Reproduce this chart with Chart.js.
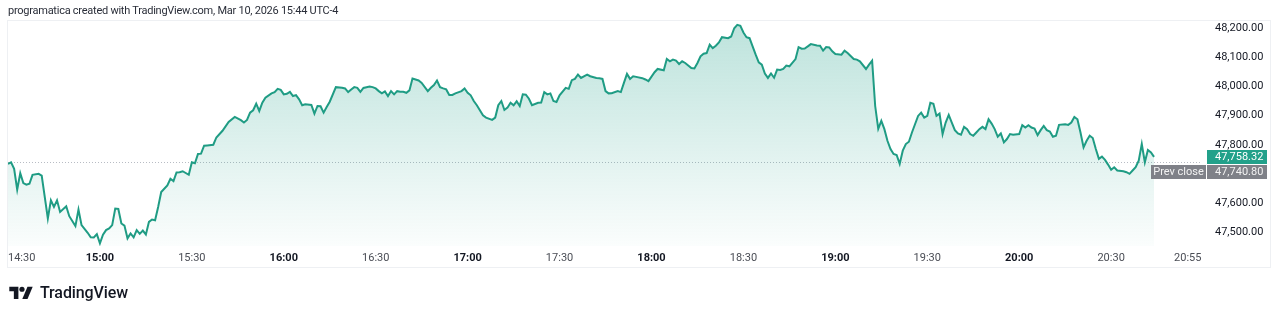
<!DOCTYPE html>
<html>
<head>
<meta charset="utf-8">
<script src="https://cdn.jsdelivr.net/npm/chart.js@4"></script>
<style>
  html, body { margin: 0; padding: 0; background: #fff; }
  #wrap { position: relative; width: 1280px; height: 315px; overflow: hidden; font-family: Roboto, "Noto Sans", sans-serif; }
  #chart { position: absolute; left: 0; top: 0; }
  #header { position: absolute; left: 8px; top: 4px; font-size: 11px; color: #2a2e39; white-space: nowrap; letter-spacing: -0.25px; }
  #pane { position: absolute; left: 7px; top: 20px; width: 1264px; height: 248px; border: 1px solid #eef0f3; box-sizing: border-box; }
  #logo { position: absolute; left: 9px; top: 283px; display: flex; align-items: center; gap: 7px; color: #131722; font-size: 16px; font-weight: 500; letter-spacing: -0.1px; }
</style>
</head>
<body>
<div id="wrap">
  <div id="pane"></div>
  <canvas id="chart" width="1280" height="315"></canvas>
  <div id="header">programatica created with TradingView.com, Mar 10, 2026 15:44 UTC-4</div>
  <div id="logo">
    <svg width="24" height="13" viewBox="0 0 36 20"><path d="M14 20H7V8H0V1h14z" fill="#131722"/><circle cx="19.5" cy="5" r="4" fill="#131722"/><path d="M28 20h-8L28 1h8z" fill="#131722"/></svg>
    <span>TradingView</span>
  </div>
</div>
<script>
// minutes after 14:30 and the index level at that minute
const minutes = [0, 1, 2, 3, 4, 5, 6, 7, 8, 10, 11, 13, 14, 15, 16, 17, 19, 20, 22, 23, 24, 26, 27, 28, 29, 30, 31, 32, 33, 34, 35, 36, 37, 38, 39, 40, 41, 42, 43, 44, 45, 46, 47, 48, 49, 50, 52, 53, 54, 55, 56, 57, 59, 60, 61, 62, 63, 64, 65, 67, 68, 70, 72, 74, 76, 77, 78, 79, 80, 81, 82, 83, 84, 86, 87, 88, 89, 90, 91, 92, 93, 94, 95, 96, 97, 99, 100, 101, 102, 103, 104, 105, 107, 109, 110, 111, 112, 113, 114, 115, 116, 118, 119, 120, 121, 122, 123, 124, 125, 126, 127, 128, 129, 130, 131, 132, 133, 134, 135, 137, 138, 139, 140, 141, 142, 143, 144, 145, 146, 148, 149, 150, 151, 152, 153, 155, 156, 158, 159, 160, 161, 162, 163, 164, 165, 166, 167, 168, 169, 170, 171, 173, 174, 175, 176, 177, 178, 179, 180, 182, 183, 184, 185, 186, 187, 189, 190, 192, 193, 194, 195, 196, 197, 199, 200, 201, 202, 203, 204, 205, 207, 208, 209, 211, 212, 214, 215, 216, 217, 218, 219, 220, 221, 223, 224, 225, 226, 227, 228, 229, 230, 231, 232, 233, 235, 236, 237, 238, 239, 240, 241, 242, 243, 244, 245, 246, 247, 248, 249, 250, 251, 252, 253, 254, 255, 257, 258, 259, 260, 261, 262, 264, 265, 266, 267, 268, 269, 270, 272, 273, 274, 276, 277, 278, 280, 281, 282, 283, 284, 285, 286, 287, 288, 289, 290, 291, 292, 293, 294, 295, 297, 298, 299, 300, 301, 302, 303, 304, 305, 306, 307, 308, 309, 310, 311, 312, 313, 314, 315, 316, 317, 318, 319, 320, 321, 322, 323, 324, 325, 326, 327, 328, 330, 331, 332, 333, 334, 335, 336, 337, 338, 339, 340, 341, 342, 343, 345, 346, 347, 348, 349, 350, 351, 352, 353, 354, 355, 356, 357, 358, 359, 360, 361, 362, 364, 365, 366, 367, 368, 369, 370, 371, 372, 373, 374];
const prices = [47734.3, 47739.8, 47717.3, 47645.7, 47702.3, 47668.2, 47662.7, 47666.2, 47696.8, 47700.2, 47694.4, 47546.8, 47609.2, 47586.4, 47609.2, 47569.3, 47588.8, 47554.7, 47520.6, 47577.5, 47524.0, 47497.7, 47482.1, 47481.5, 47493.3, 47461.6, 47491.0, 47507.0, 47512.7, 47524.0, 47580.9, 47579.6, 47529.8, 47522.5, 47478.7, 47495.7, 47482.1, 47507.0, 47494.2, 47505.5, 47492.0, 47535.2, 47543.4, 47541.0, 47586.4, 47637.5, 47660.4, 47683.2, 47675.0, 47704.7, 47705.7, 47709.1, 47696.8, 47739.8, 47736.4, 47768.4, 47769.5, 47796.7, 47797.8, 47800.1, 47825.0, 47847.9, 47878.5, 47895.6, 47884.3, 47876.1, 47885.0, 47910.2, 47918.4, 47940.9, 47916.0, 47944.3, 47961.4, 47976.4, 47980.8, 47992.0, 47988.6, 47973.0, 47975.0, 47981.8, 47967.2, 47970.6, 47955.9, 47935.5, 47938.9, 47936.5, 47906.8, 47933.1, 47932.0, 47910.2, 47929.7, 47947.7, 47997.8, 47996.0, 47993.4, 47980.8, 47990.0, 47997.8, 47995.5, 47981.8, 47995.0, 48000.2, 47997.8, 47993.4, 47984.2, 47976.4, 47983.0, 47967.2, 47984.2, 47973.0, 47984.0, 47981.8, 47982.0, 47978.4, 47986.6, 48027.5, 48024.1, 48020.7, 48012.5, 47984.2, 47995.5, 48004.7, 48020.7, 47997.8, 47993.4, 47990.0, 47970.6, 47971.0, 47976.4, 47984.2, 47993.4, 47978.4, 47969.6, 47950.1, 47935.5, 47901.4, 47893.2, 47885.4, 47893.2, 47935.5, 47950.1, 47919.4, 47927.3, 47944.3, 47935.5, 47949.1, 47933.1, 47973.0, 47972.0, 47958.0, 47935.5, 47944.3, 47945.0, 47980.8, 47973.0, 47976.4, 47950.1, 47946.7, 47969.6, 47995.5, 47992.0, 48021.7, 48026.1, 48041.1, 48029.5, 48041.1, 48035.3, 48029.5, 48028.0, 48026.1, 47984.2, 47976.4, 47977.0, 47984.2, 47980.8, 48012.5, 48043.2, 48026.1, 48035.3, 48033.0, 48028.5, 48024.1, 48018.3, 48049.0, 48060.2, 48055.8, 48094.3, 48086.5, 48092.3, 48088.9, 48077.3, 48086.5, 48080.7, 48063.6, 48062.0, 48080.7, 48103.5, 48112.7, 48114.8, 48143.4, 48131.8, 48140.0, 48151.3, 48169.3, 48165.9, 48171.7, 48200.0, 48211.6, 48208.2, 48185.3, 48169.3, 48165.9, 48137.6, 48109.3, 48083.1, 48075.2, 48044.5, 48029.5, 48044.5, 48030.0, 48058.2, 48057.0, 48060.2, 48071.8, 48069.4, 48094.3, 48135.2, 48129.8, 48130.5, 48137.6, 48145.5, 48141.0, 48140.0, 48123.0, 48135.2, 48134.2, 48120.6, 48111.4, 48109.3, 48123.0, 48114.8, 48094.3, 48092.3, 48086.5, 48060.2, 48075.2, 48088.9, 47933.0, 47854.7, 47882.0, 47853.6, 47813.8, 47785.5, 47768.4, 47765.0, 47734.3, 47779.7, 47802.5, 47810.4, 47842.1, 47899.0, 47910.2, 47893.2, 47899.0, 47944.3, 47940.9, 47899.0, 47906.8, 47836.6, 47876.1, 47902.4, 47876.1, 47850.2, 47838.6, 47834.2, 47861.5, 47853.6, 47836.6, 47830.8, 47842.1, 47853.6, 47861.5, 47853.6, 47887.7, 47872.7, 47853.6, 47827.4, 47838.6, 47808.0, 47819.6, 47836.6, 47834.2, 47836.6, 47867.3, 47859.1, 47867.3, 47859.1, 47855.7, 47833.2, 47850.2, 47864.9, 47850.2, 47845.5, 47827.4, 47830.8, 47868.3, 47870.7, 47868.3, 47876.1, 47895.6, 47887.7, 47842.1, 47790.9, 47813.8, 47830.8, 47823.0, 47785.5, 47751.4, 47759.2, 47748.0, 47731.9, 47713.9, 47722.7, 47711.5, 47709.1, 47705.7, 47700.2, 47711.5, 47722.7, 47745.6, 47802.5, 47739.8, 47782.1, 47773.9, 47758.32];

const xTickMinutes = [0, 30, 60, 90, 120, 150, 180, 210, 240, 270, 300, 330, 360, 385];
const xTickLabels = ['14:30', '15:00', '15:30', '16:00', '16:30', '17:00', '17:30', '18:00', '18:30', '19:00', '19:30', '20:00', '20:30', '20:55'];
const yTicks = [47500, 47600, 47800, 47900, 48000, 48100, 48200];

const lastPrice = 47758.32;
const prevClose = 47740.80;

const xMax = 389;
const yMin = 47452.4;
const yMax = 48222.8;

const lineColor = '#1f9c84';
const fontFamily = 'Roboto, "Noto Sans", sans-serif';
const fmt = v => v.toLocaleString('en-US', { minimumFractionDigits: 2, maximumFractionDigits: 2 });

Chart.defaults.font.family = fontFamily;

const priceLabels = {
    id: 'priceLabels',
    beforeDatasetsDraw(chart) {
        const c = chart.ctx;
        const area = chart.chartArea;
        const y = Math.round(chart.scales.y.getPixelForValue(prevClose)) + 0.5;
        c.save();
        c.strokeStyle = '#b8bcc4';
        c.lineWidth = 1;
        c.setLineDash([1, 2]);
        c.beginPath();
        c.moveTo(area.left, y);
        c.lineTo(area.right, y);
        c.stroke();
        c.restore();
    },
    afterDraw(chart) {
        const c = chart.ctx;
        const area = chart.chartArea;
        const yLast = chart.scales.y.getPixelForValue(lastPrice);
        const boxX = area.right + 7;
        const boxW = 60;
        const boxH = 14;
        c.save();
        c.font = '11px ' + fontFamily;
        c.textBaseline = 'middle';
        const top1 = Math.round(yLast - boxH / 2);
        c.fillStyle = '#22a18a';
        c.fillRect(boxX, top1, boxW, boxH);
        c.fillStyle = '#ffffff';
        c.textAlign = 'left';
        c.fillText(fmt(lastPrice), boxX + 8, top1 + boxH / 2 + 0.5);

        const top2 = top1 + boxH + 1;
        c.fillStyle = '#7f8188';
        c.fillRect(boxX, top2, boxW, boxH);
        c.fillRect(boxX - 56, top2, 55, boxH);
        c.fillStyle = '#f2f2f2';
        c.fillText(fmt(prevClose), boxX + 8, top2 + boxH / 2 + 0.5);
        c.textAlign = 'center';
        c.fillText('Prev close', boxX - 28.5, top2 + boxH / 2 + 0.5);
        c.restore();
    }
};

new Chart(document.getElementById('chart'), {
    type: 'line',
    data: {
        datasets: [{
            data: minutes.map((m, i) => ({ x: m, y: prices[i] })),
            borderColor: lineColor,
            borderWidth: 2,
            pointRadius: 0,
            tension: 0,
            fill: 'start',
            backgroundColor: (ctx) => {
                const area = ctx.chart.chartArea;
                if (!area) return 'rgba(34,161,138,0.15)';
                const g = ctx.chart.ctx.createLinearGradient(0, area.top, 0, area.bottom);
                g.addColorStop(0, 'rgba(34,161,138,0.30)');
                g.addColorStop(1, 'rgba(34,161,138,0.02)');
                return g;
            }
        }]
    },
    options: {
        responsive: false,
        animation: false,
        devicePixelRatio: 1,
        layout: { padding: { left: 8, top: 20, right: 8, bottom: 47 } },
        plugins: { legend: { display: false }, tooltip: { enabled: false } },
        scales: {
            x: {
                type: 'linear',
                min: 0,
                max: xMax,
                grid: { display: false, drawTicks: false },
                border: { display: false },
                afterBuildTicks: (s) => { s.ticks = xTickMinutes.map(v => ({ value: v })).concat([{ value: xMax }]); },
                afterFit: (s) => { s.height = 22; },
                ticks: {
                    align: 'inner',
                    autoSkip: false,
                    maxRotation: 0,
                    padding: 6,
                    color: (ctx) => (ctx.tick && ctx.tick.value % 60 === 30 ? '#131722' : '#4a4d55'),
                    font: (ctx) => ({ size: 11, weight: ctx.tick && ctx.tick.value % 60 === 30 ? 'bold' : 'normal' }),
                    callback: (v) => {
                        const i = xTickMinutes.indexOf(v);
                        return i >= 0 ? xTickLabels[i] : '';
                    }
                }
            },
            y: {
                position: 'right',
                min: yMin,
                max: yMax,
                grid: { display: false, drawTicks: false },
                border: { display: false },
                afterBuildTicks: (s) => { s.ticks = yTicks.map(v => ({ value: v })); },
                afterFit: (s) => { s.width = 72; },
                ticks: {
                    crossAlign: 'near',
                    padding: 15,
                    autoSkip: false,
                    color: '#131722',
                    font: { size: 11 },
                    callback: (v) => fmt(v)
                }
            }
        }
    },
    plugins: [priceLabels]
});
</script>
</body>
</html>
